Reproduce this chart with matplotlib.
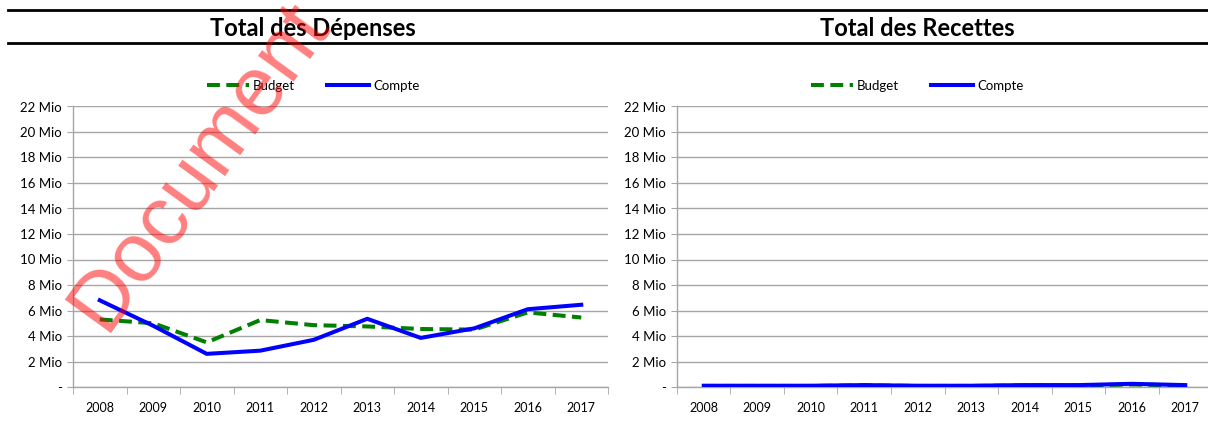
import matplotlib
matplotlib.use("Agg")
import matplotlib.pyplot as plt
from matplotlib.lines import Line2D

plt.rcParams['font.family'] = ['Lato', 'DejaVu Sans']

years = ["2008", "2009", "2010", "2011", "2012", "2013", "2014", "2015", "2016", "2017"]
dep_budget = [5.3, 5.0, 3.5, 5.25, 4.85, 4.75, 4.55, 4.5, 5.85, 5.45]
dep_compte = [6.8, 4.8, 2.6, 2.85, 3.7, 5.35, 3.85, 4.6, 6.1, 6.45]
rec_budget = [0.08, 0.08, 0.08, 0.12, 0.08, 0.08, 0.12, 0.12, 0.2, 0.12]
rec_compte = [0.1, 0.1, 0.1, 0.15, 0.1, 0.1, 0.15, 0.15, 0.25, 0.15]
yticks = list(range(0, 23, 2))
ytick_labels = ["-" if v == 0 else f"{v} Mio" for v in yticks]

W, H = 1208, 423
fig = plt.figure(figsize=(W / 100, H / 100), dpi=100)

def fx(px):
    return px / W

def fy(py):
    return 1 - py / H

GREEN = "#008000"
BLUE = "#0000ff"
GRID = "#a6a6a6"

def make_axes(x0, x1, title, tx, budget, compte):
    ax = fig.add_axes([fx(x0), fy(387), fx(x1 - x0), (387 - 106.5) / H])
    xs = list(range(len(years)))
    ax.plot(xs, budget, color=GREEN, lw=2.9, dashes=(3.2, 1.6), zorder=3)
    ax.plot(xs, compte, color=BLUE, lw=2.9, zorder=4)
    ax.set_xlim(-0.5, len(years) - 0.5)
    ax.set_ylim(0, 22)
    ax.set_yticks(yticks)
    ax.set_yticklabels(ytick_labels, fontsize=9.5)
    ax.set_xticks(xs)
    ax.set_xticklabels(years, fontsize=9)
    ax.set_xticks([i - 0.5 for i in range(len(years) + 1)], minor=True)
    ax.tick_params(axis='x', which='major', length=0, pad=11)
    ax.tick_params(axis='x', which='minor', length=5, color=GRID)
    ax.tick_params(axis='y', length=4, color=GRID, pad=4)
    ax.grid(axis='y', color=GRID, lw=1)
    ax.set_axisbelow(True)
    for s in ['top', 'right']:
        ax.spines[s].set_visible(False)
    for s in ['left', 'bottom']:
        ax.spines[s].set_color(GRID)
        ax.spines[s].set_linewidth(1)
    fig.text(fx(tx), fy(29), title, ha='center', va='center', fontsize=17, fontweight='bold')
    handles = [Line2D([], [], color=GREEN, lw=2.9, dashes=(3.2, 1.6)),
               Line2D([], [], color=BLUE, lw=2.9)]
    fig.legend(handles, ["Budget", "Compte"], loc='center', bbox_to_anchor=(fx(tx), fy(86)),
               ncol=2, frameon=False, fontsize=9.5, handlelength=3.2, handletextpad=0.3,
               columnspacing=2.4)
    return ax

make_axes(73, 608, "Total des Dépenses", 313, dep_budget, dep_compte)
make_axes(677, 1212, "Total des Recettes", 917, rec_budget, rec_compte)

# horizontal rules
for py in (10, 43):
    fig.add_artist(Line2D([fx(8), 1], [fy(py), fy(py)], color='black', lw=2))

# watermark
fig.text(fx(104), fy(333), "Document", rotation=54, rotation_mode='anchor',
         ha='left', va='baseline', fontsize=60.5, color='red', alpha=0.5,
         family=['Liberation Sans', 'DejaVu Sans'], zorder=10)

fig.savefig("out.png", dpi=100)
